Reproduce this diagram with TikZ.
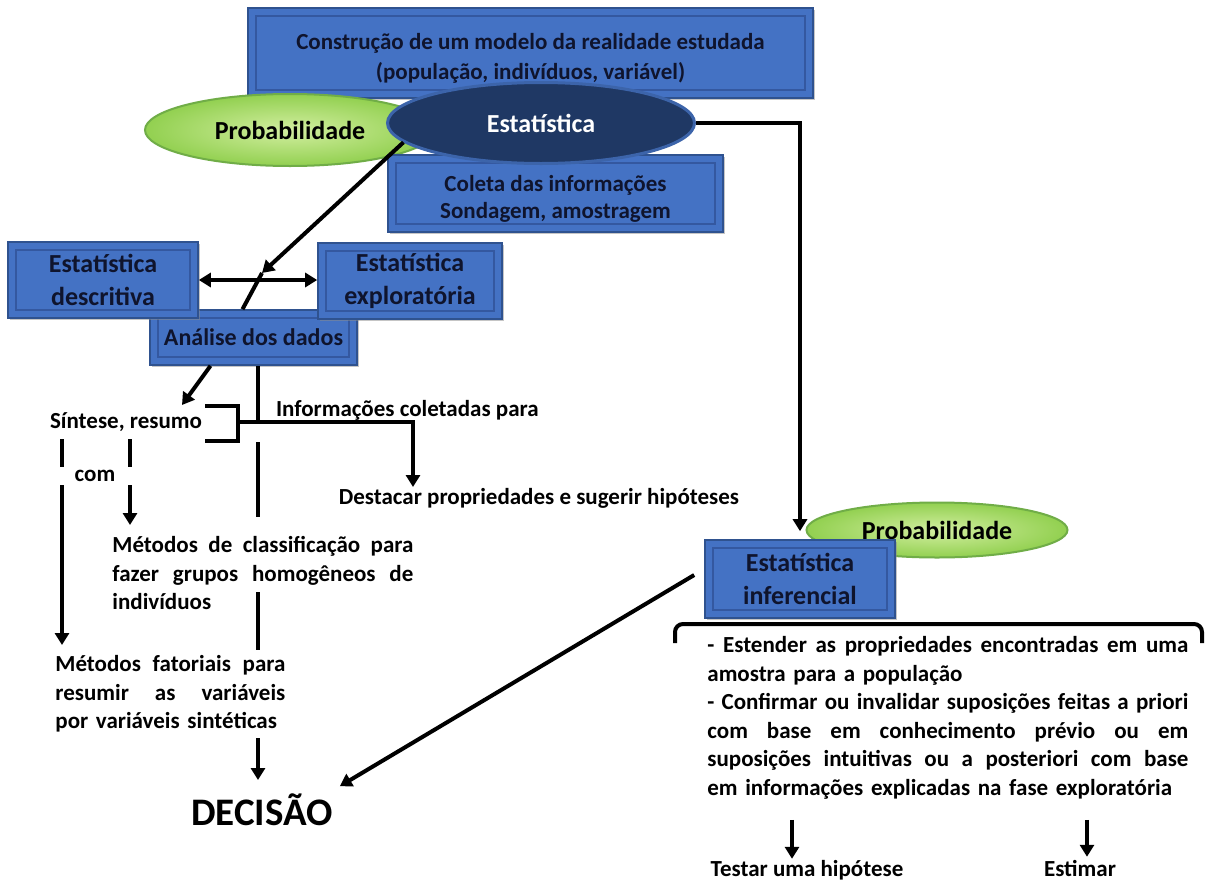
\documentclass[tikz,border=0pt]{standalone}
\usepackage{fontspec}
\setmainfont{Carlito}
\usepackage{xcolor}
\usepackage{tikz}
\usetikzlibrary{arrows.meta,positioning,calc,shapes.geometric,shadows}

\definecolor{boxblue}{RGB}{68,114,196}
\definecolor{boxedge}{RGB}{47,82,143}
\definecolor{boxline}{RGB}{52,88,160}
\definecolor{navy}{RGB}{31,56,100}
\definecolor{navyedge}{RGB}{60,100,170}
\definecolor{lime}{RGB}{146,208,80}
\definecolor{limelight}{RGB}{210,238,160}
\definecolor{limeedge}{RGB}{112,173,71}
\definecolor{boxtext}{RGB}{15,20,45}

% justified line of a given width
\newcommand{\jl}[2]{\leavevmode\hbox to #1{\spaceskip=0.226em plus 1fil\relax #2}}

\begin{document}
\begin{tikzpicture}[
  x=0.5pt, y=-0.5pt,
  font=\bfseries\fontsize{11.5}{14.25}\selectfont,
  >={Triangle[length=6pt,width=7pt]},
  box/.style={draw=boxedge, line width=0.8pt, fill=boxblue, text=boxtext, align=center, inner sep=2pt,
    drop shadow={shadow xshift=1.2pt, shadow yshift=-1.2pt, fill=black!45},
    path picture={\draw[boxline, line width=0.8pt]
      ([shift={(4pt,4pt)}]path picture bounding box.south west) rectangle
      ([shift={(-4pt,-4pt)}]path picture bounding box.north east);}},
  big/.style={font=\bfseries\fontsize{13}{16.5}\selectfont},
  prob/.style={ellipse, draw=limeedge, line width=1pt, inner color=limelight, outer color=lime,
    font=\bfseries\fontsize{13}{16}\selectfont},
  line/.style={line width=2pt},
  arr/.style={->, line width=2pt}
]
\fill[white] (0,0) rectangle (1206,884);
\useasboundingbox (0,0) rectangle (1206,884);

% upper part
\node[box, minimum width=282.5pt, minimum height=45pt, font=\bfseries\fontsize{11.5}{15}\selectfont] (modelo) at (530.5,53)
  {\rule{0pt}{13pt}Construção de um modelo da realidade estudada\\(população, indivíduos, variável)};
\node[prob, minimum width=145pt, minimum height=36pt] (prob1) at (290,130) {Probabilidade};
\node[box, minimum width=167.5pt, minimum height=38.5pt, font=\bfseries\fontsize{11.5}{13.5}\selectfont] (coleta) at (555.5,193.5)
  {\rule{0pt}{13pt}Coleta das informações\\Sondagem, amostragem};
\node[ellipse, draw=navyedge, line width=1.5pt, fill=navy, text=white, big,
  minimum width=153.5pt, minimum height=40.5pt] (estat) at (541,123) {Estatística};

% data analysis
\node[box, minimum width=103.5pt, minimum height=27.5pt, font=\bfseries\fontsize{12}{14}\selectfont] (analise) at (253.5,337.5) {Análise dos dados};
\node[box, big, minimum width=95pt, minimum height=38pt] (descr) at (103,280) {Estatística\\descritiva};
\node[box, big, minimum width=92pt, minimum height=38pt] (explo) at (410,281) {Estatística\\exploratória};

% inference side
\node[prob, minimum width=130.5pt, minimum height=27.5pt] (prob2) at (937,530) {Probabilidade};
\node[box, big, minimum width=95pt, minimum height=39pt] (infer) at (800,579) {Estatística\\inferencial};

% free texts
\node[anchor=base] (sintese) at (126,428) {Síntese, resumo};
\node[anchor=base west] (coletadas) at (269,416) {Informações coletadas para};
\node[anchor=base] (destacar) at (539,504) {Destacar propriedades e sugerir hipóteses};
\node[anchor=base] (com) at (95,481) {com};
\node[anchor=north west, inner sep=0pt, text width=150.5pt, align=left] (classif) at (112,536)
  {\jl{150.5pt}{Métodos de classificação para}\\\jl{150.5pt}{fazer grupos homogêneos de}\\indivíduos};
\node[anchor=north west, inner sep=0pt, text width=115pt, align=left] (fatorial) at (55,655)
  {\jl{115pt}{Métodos fatoriais para}\\\jl{115pt}{resumir as variáveis}\\por variáveis sintéticas};
\node[anchor=base, font=\bfseries\fontsize{19.5}{22}\selectfont] (decisao) at (262,825) {DECISÃO};
\node[anchor=north west, inner sep=0pt, text width=240.5pt, align=left] (objetivos) at (707,636)
  {\jl{240.5pt}{- Estender as propriedades encontradas em uma}\\
   amostra para a população\\
   \jl{240.5pt}{- Confirmar ou invalidar suposições feitas a priori}\\
   \jl{240.5pt}{com base em conhecimento prévio ou em}\\
   \jl{240.5pt}{suposições intuitivas ou a posteriori com base}\\
   em informações explicadas na fase exploratória};
\node[anchor=base] (testar) at (807,876) {Testar uma hipótese};
\node[anchor=base] (estimar) at (1080,876) {Estimar};

% connectors
\coordinate (hit) at (262,273);
\coordinate (stip) at (182,405);
\coordinate (brk) at (238,422);
\coordinate (junc) at (258,422);
\coordinate (dtip) at (413,487);

\draw[arr] (estat.188) -- (hit);
\draw[line] (hit) -- ($(analise.north)+(-11,0)$);
\draw[<->, line width=2pt] (descr.east) -- (explo.west |- descr.east);
\draw[arr] ($(analise.south)+(-43,0)$) -- (stip);
\draw[line] (brk) ++(-33,-16) -| ++(33,35) -- ++(-33,0);
\draw[line] (analise.south -| junc) -- (junc);
\draw[arr] (brk) -| (dtip);
\draw[line] ($(junc)+(0,20)$) -- ($(junc)+(0,95)$);
\draw[line] ($(junc)+(0,170)$) -- ($(junc)+(0,228)$);
\draw[arr] ($(junc)+(0,316)$) -- ($(junc)+(0,358)$);

% left columns
\draw[line] (62,439) -- (62,467);
\draw[arr] (62,485) -- (62,645);
\draw[line] (130,439) -- (130,467);
\draw[arr] (130,485) -- (130,525);

% right side
\draw[arr] (estat.east) -| ($(infer.north)+(0,-8)$);
\draw[arr] ($(infer.west)+(-10,-4)$) -- (decisao.north east);
\draw[line, rounded corners=4pt] (675,643) |- (1202,624) -- (1202,643);
\draw[arr] ($(testar.north)+(-15,-33)$) -- ($(testar.north)+(-15,6)$);
\draw[arr] ($(estimar.north)+(7,-33)$) -- ($(estimar.north)+(7,4)$);
\end{tikzpicture}
\end{document}
